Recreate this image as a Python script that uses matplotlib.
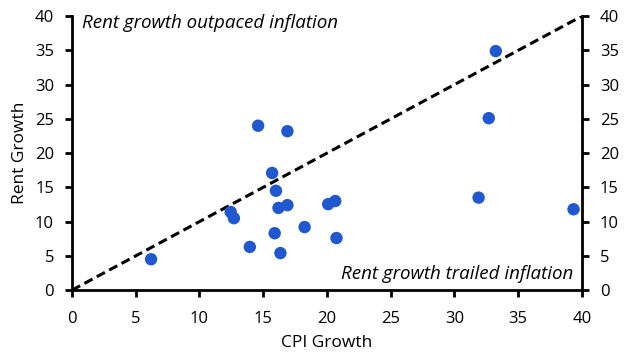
import matplotlib
matplotlib.use("Agg")
import matplotlib.pyplot as plt

# ==================== data ====================
cpi_growth = [14.6, 16.9, 15.7, 16.0, 16.2, 16.9, 12.45, 12.7, 20.1, 20.65,
              18.25, 15.9, 13.95, 16.35, 20.75, 33.25, 32.7, 31.9, 39.35, 6.2]
rent_growth = [24.0, 23.2, 17.1, 14.5, 12.0, 12.4, 11.4, 10.5, 12.55, 13.0,
               9.2, 8.3, 6.3, 5.4, 7.6, 34.9, 25.1, 13.5, 11.8, 4.5]
parity = [0, 40]
ticks = [0, 5, 10, 15, 20, 25, 30, 35, 40]

# ==================== style ====================
plt.rcParams["font.family"] = ["Open Sans", "DejaVu Sans"]
plt.rcParams["font.size"] = 12

fig = plt.figure(figsize=(6.29, 3.59), dpi=100)
ax = fig.add_axes([0.1145, 0.192, 0.8105, 0.763])

ax.plot(parity, parity, linestyle=(0, (3, 1.6)), color="black", linewidth=2.2, zorder=2)
ax.scatter(cpi_growth, rent_growth, s=80, color="#2158cf", edgecolors="none",
           zorder=3, clip_on=False)

ax.set_xlim(0, 40)
ax.set_ylim(0, 40)
ax.set_xticks(ticks)
ax.set_yticks(ticks)

ax.spines["top"].set_visible(False)
for side in ["left", "right", "bottom"]:
    ax.spines[side].set_linewidth(2)
ax.tick_params(axis="both", direction="out", length=5, width=2, color="black",
               labelsize=12)
ax.tick_params(axis="x", pad=10)
ax.tick_params(axis="y", which="both", left=True, right=True,
               labelleft=True, labelright=True, pad=8)

ax.set_xlabel("CPI Growth", fontsize=12.5, labelpad=6)
ax.set_ylabel("Rent Growth", fontsize=12.5, labelpad=5)

ax.text(0.8, 40.3, "Rent growth outpaced inflation", style="italic",
        fontsize=13.5, va="top", ha="left")
ax.text(39.3, 1.0, "Rent growth trailed inflation", style="italic",
        fontsize=13.5, va="bottom", ha="right")

fig.savefig("out.png", dpi=100)
